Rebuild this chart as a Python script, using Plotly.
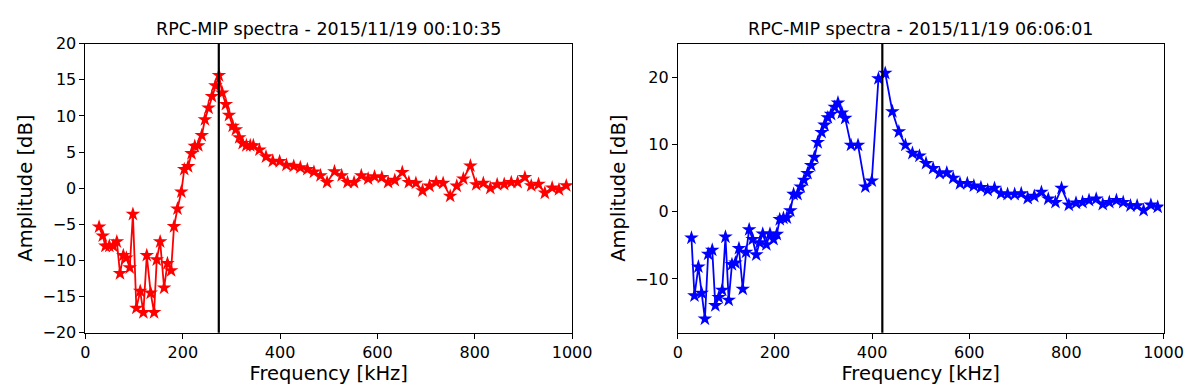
import plotly.graph_objects as go

# left panel: 2015/11/19 00:10:35
freq_a = [28, 35.5, 41, 49, 57, 64.5, 71, 77.8, 84, 91, 97.5, 104.6, 112.5, 119, 126, 134, 141, 146.5,
          153.5, 161.6, 168.5, 176, 182, 189, 197, 203, 211, 218, 224.7, 232, 239, 245.5, 253, 260,
          267, 274.3, 281, 288.5, 295, 302.5, 309, 316, 323, 330.6, 338.6, 345, 357.5, 371, 385,
          399, 413, 428, 441.5, 456, 469.5, 483, 496.5, 511.7, 526.5, 538.6, 552, 566.8, 580.9,
          594, 609, 622, 635.7, 651, 664.6, 679, 692.6, 707, 720.6, 735, 749.5, 763, 776.5, 791,
          803, 817.6, 832, 846, 860.5, 875, 888, 903, 916, 931, 944, 959, 973, 988]
amp_a = [-5.35, -6.6, -8.0, -8.0, -8.0, -7.4, -11.8, -9.3, -9.65, -11.0, -3.6, -16.6, -14.25, -17.2,
         -9.3, -14.5, -17.2, -9.9, -7.4, -13.8, -10.4, -11.4, -5.3, -2.85, -0.5, 2.6, 3.0, 4.8, 5.8,
         5.9, 7.3, 9.5, 11.1, 12.7, 14.2, 15.6, 13.2, 11.6, 10.1, 8.6, 8.1, 7.0, 6.2, 5.9, 5.9, 5.9,
         5.3, 4.35, 3.75, 3.7, 3.2, 3.05, 2.85, 2.6, 2.25, 1.75, 0.8, 2.3, 1.75, 0.8, 0.8, 1.75, 1.3,
         1.6, 1.5, 0.8, 1.1, 2.2, 0.8, 0.7, -0.35, 0.3, 0.8, 0.7, -1.1, 0.3, 1.3, 3.1, 0.5, 0.7,
         0.0, 0.5, 0.55, 0.8, 0.8, 1.5, 0.35, 0.55, -0.66, 0.05, -0.2, 0.35]
fp_a = 274

# right panel: 2015/11/19 06:06:01
freq_b = [28, 34.2, 42.3, 49, 55.7, 62.4, 70.8, 77.2, 84.2, 91.3, 98, 104.7, 111.4, 118.5, 125.8,
          133.6, 140.5, 146.8, 154, 161.4, 168.2, 174.8, 182.2, 189.7, 197, 203.7, 209.8, 217.4,
          224.4, 231.6, 238.3, 246.4, 253, 259.8, 267, 274.5, 281.2, 288, 296, 302, 308.8, 315.5,
          323, 329.7, 337.7, 344.5, 356.5, 371, 386, 399.3, 413, 427, 441.7, 455, 468.5, 483,
          497.5, 511, 525.6, 539, 553.8, 567, 581, 596, 609.5, 624, 638, 652, 665.4, 678.9, 693.5,
          707, 720.4, 733.9, 748.6, 762.7, 777.5, 790, 805, 819.8, 833.2, 846.6, 861.4, 874.9,
          888.4, 903, 917, 932, 945.7, 959, 974, 988]
amp_b = [-3.9, -12.5, -8.2, -12.1, -15.95, -6.3, -5.7, -13.95, -12.75, -11.65, -3.75, -13.15, -7.85,
         -7.6, -5.45, -11.5, -6.0, -2.65, -4.1, -6.4, -4.6, -3.3, -4.9, -3.3, -4.1, -3.35, -1.15,
         -0.95, -0.9, 0.15, 2.6, 2.6, 3.7, 4.7, 5.7, 6.9, 8.1, 10.3, 11.8, 12.9, 14.0, 14.5, 15.55,
         16.2, 14.7, 13.9, 9.9, 9.9, 3.7, 4.6, 19.8, 20.6, 14.9, 11.9, 9.9, 8.7, 8.3, 7.2, 6.45, 5.7,
         5.8, 5.0, 4.2, 4.2, 3.85, 3.6, 3.2, 3.5, 2.7, 2.6, 2.6, 2.7, 2.0, 2.3, 2.9, 1.9, 1.4, 3.5,
         1.0, 1.3, 1.4, 1.7, 1.9, 1.1, 1.4, 1.7, 1.4, 0.9, 0.9, 0.2, 1.0, 0.7]
fp_b = 421

titles = ["RPC-MIP spectra - 2015/11/19 00:10:35", "RPC-MIP spectra - 2015/11/19 06:06:01"]

W, H = 1200, 387
font = "DejaVu Sans"

fig = go.Figure()
fig.add_trace(go.Scatter(x=freq_a, y=amp_a, mode="lines+markers", xaxis="x", yaxis="y",
                         line=dict(color="#ff0000", width=1.8),
                         marker=dict(symbol="star", size=11, color="#ff0000", line=dict(width=0))))
fig.add_trace(go.Scatter(x=freq_b, y=amp_b, mode="lines+markers", xaxis="x2", yaxis="y2",
                         line=dict(color="#0000ff", width=1.8),
                         marker=dict(symbol="star", size=11, color="#0000ff", line=dict(width=0))))

for xr, fp in [("x", fp_a), ("x2", fp_b)]:
    fig.add_shape(type="line", xref=xr, yref=xr.replace("x", "y") + " domain", x0=fp, x1=fp, y0=0, y1=1,
                  line=dict(color="black", width=2.2))

axis_common = dict(showgrid=False, zeroline=False, showline=True, linecolor="black", linewidth=1,
                   mirror=True, ticks="outside", ticklen=5, tickcolor="black",
                   tickfont=dict(family=font, size=16, color="black"))

y_top, y_bot = 1 - 28 / H, 1 - 332 / H
fig.update_layout(
    width=W, height=H, showlegend=False,
    plot_bgcolor="white", paper_bgcolor="white",
    margin=dict(l=0, r=0, t=0, b=0),
    font=dict(family=font, color="black"),
    xaxis=dict(domain=[74 / W, 571 / W], range=[0, 1000], dtick=200, anchor="y",
               title=dict(text="Frequency [kHz]", font=dict(size=19.5), standoff=2), **axis_common),
    yaxis=dict(domain=[y_bot, y_top], range=[-20, 20], dtick=5, anchor="x",
               title=dict(text="Amplitude [dB]", font=dict(size=19.5), standoff=4), **axis_common),
    xaxis2=dict(domain=[679 / W, 1175 / W], range=[0, 1000], dtick=200, anchor="y2",
                title=dict(text="Frequency [kHz]", font=dict(size=19.5), standoff=2), **axis_common),
    yaxis2=dict(domain=[y_bot, y_top], range=[-18, 25], tickvals=[-10, 0, 10, 20], anchor="x2",
                title=dict(text="Amplitude [dB]", font=dict(size=19.5), standoff=4), **axis_common),
)

for i, t in enumerate(titles):
    cx = [(74 + 571) / 2 / W, (679 + 1175) / 2 / W][i]
    fig.add_annotation(text=t, x=cx, y=y_top, xref="paper", yref="paper", xanchor="center",
                       yanchor="bottom", yshift=3, showarrow=False,
                       font=dict(family=font, size=17.5, color="black"))

fig.write_html("out.html", config={"displayModeBar": False})
